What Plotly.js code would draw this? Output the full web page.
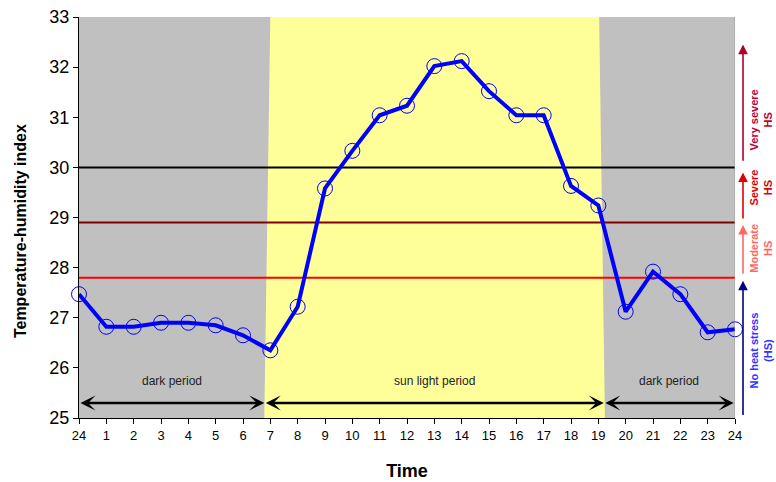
<!DOCTYPE html>
<html><head><meta charset="utf-8">
<script src="https://cdn.plot.ly/plotly-3.0.1.min.js"></script>
<style>html,body{margin:0;padding:0;background:#fff}</style>
</head><body><div id="chart" style="width:776px;height:482px"></div>
<script>
// ---- data ----
const hourLabels = ['24','1','2','3','4','5','6','7','8','9','10','11','12','13','14','15','16','17','18','19','20','21','22','23','24'];
const thiValues = [27.47, 26.82, 26.82, 26.90, 26.90, 26.85, 26.65, 26.35, 27.22, 29.58, 30.33, 31.04, 31.23, 32.02, 32.12, 31.52, 31.04, 31.04, 29.63, 29.24, 27.12, 27.92, 27.47, 26.71, 26.77];
const thresholdValues = [30, 28.9, 27.8];
const periodLabels = ['dark period', 'sun light period', 'dark period'];
const periodBounds = [0, 6.78, 19.2, 23.95];
const stressLabels = ['No heat stress<br>(HS)', 'Moderate<br>HS', 'Severe<br>HS', 'Very severe<br>HS'];
const stressFrom = [25.03, 27.85, 28.95, 30.1];
const stressTo = [27.74, 28.85, 29.9, 32.45];
const stressTextAt = [26.34, 28.39, 29.59, 30.95];

// ---- styling ----
const FONT = 'Arial, "Liberation Sans", sans-serif';
const xIdx = hourLabels.map((_, i) => i);
const thresholdColors = ['#000000', '#800000', '#ff0000'];
const stressArrowColors = ['#000080', '#ff6666', '#e00000', '#b0002a'];
const stressTextColors = ['#3333ff', '#ff6666', '#e00000', '#c00030'];

const traces = thresholdValues.map((v, i) => ({
  x: [0, 24], y: [v, v], mode: 'lines', hoverinfo: 'skip',
  line: {color: thresholdColors[i], width: 2}
}));
traces.push({
  x: xIdx, y: thiValues, mode: 'lines+markers', cliponaxis: false,
  line: {color: '#0000ff', width: 4},
  marker: {symbol: 'circle-open', size: 15, color: '#0000ff', line: {width: 1, color: '#0000ff'}}
});

const annotations = [];
for (let i = 0; i < periodLabels.length; i++) {
  const a = periodBounds[i], b = periodBounds[i + 1];
  annotations.push({
    x: b, y: 25.3, ax: a, ay: 25.3, xref: 'x', yref: 'y', axref: 'x', ayref: 'y',
    text: '', showarrow: true, arrowside: 'end+start', arrowhead: 3, startarrowhead: 3,
    arrowsize: 1, startarrowsize: 1, arrowwidth: 2.5, arrowcolor: '#000000', standoff: 0, startstandoff: 0
  });
  annotations.push({
    x: (a + b) / 2, y: 25.74, xref: 'x', yref: 'y', showarrow: false,
    text: periodLabels[i], font: {family: FONT, size: 12, color: '#222222'}
  });
}
for (let i = 0; i < stressLabels.length; i++) {
  annotations.push({
    x: 1.0122, y: stressTo[i], xref: 'paper', yref: 'y', ax: 0, ay: stressFrom[i], axref: 'pixel', ayref: 'y',
    text: '', showarrow: true, arrowhead: 2, arrowsize: 1.2, arrowwidth: 1.6, arrowcolor: stressArrowColors[i], standoff: 0
  });
  annotations.push({
    x: 1.062, xanchor: 'right', y: stressTextAt[i], xref: 'paper', yref: 'y', showarrow: false, textangle: -90,
    text: stressLabels[i], font: {family: FONT, size: 11, weight: 'bold', color: stressTextColors[i]}
  });
}
// y-axis title placed as annotation to match the reference position
annotations.push({
  x: -0.09, xanchor: 'center', y: 0.466, yanchor: 'middle', xref: 'paper', yref: 'paper', showarrow: false, textangle: -90,
  text: 'Temperature-humidity index', font: {family: FONT, size: 16, weight: 'bold', color: '#000'}
});

const layout = {
  width: 776, height: 482,
  margin: {l: 79, r: 41, t: 17, b: 64},
  paper_bgcolor: '#ffffff', plot_bgcolor: '#c0c0c0',
  showlegend: false,
  font: {family: FONT, color: '#000000'},
  xaxis: {
    range: [0, 24], tickvals: xIdx, ticktext: hourLabels, ticks: 'outside', ticklen: 5, tickcolor: '#000',
    showline: true, linecolor: '#000', linewidth: 1, showgrid: false, zeroline: false,
    tickfont: {family: FONT, size: 13, color: '#000'},
    title: {text: '<b>Time</b>', font: {family: FONT, size: 18, color: '#000'}, standoff: 22}
  },
  yaxis: {
    range: [25, 33], dtick: 1, ticks: 'outside', ticklen: 5, tickcolor: '#000',
    showline: true, linecolor: '#000', linewidth: 1, showgrid: false, zeroline: false,
    tickfont: {family: FONT, size: 18, color: '#000'}
  },
  shapes: [
    {type: 'path', xref: 'x', yref: 'y', layer: 'below', path: 'M 7.0,33 L 19.03,33 L 19.24,25 L 6.78,25 Z',
     fillcolor: '#ffff99', line: {width: 0}},
    {type: 'line', xref: 'x', yref: 'paper', x0: 24, x1: 24, y0: 0, y1: 1, line: {color: '#9a9a9a', width: 1}}
  ],
  annotations: annotations
};

Plotly.newPlot('chart', traces, layout, {displayModeBar: false, staticPlot: true});
</script>
</body></html>
